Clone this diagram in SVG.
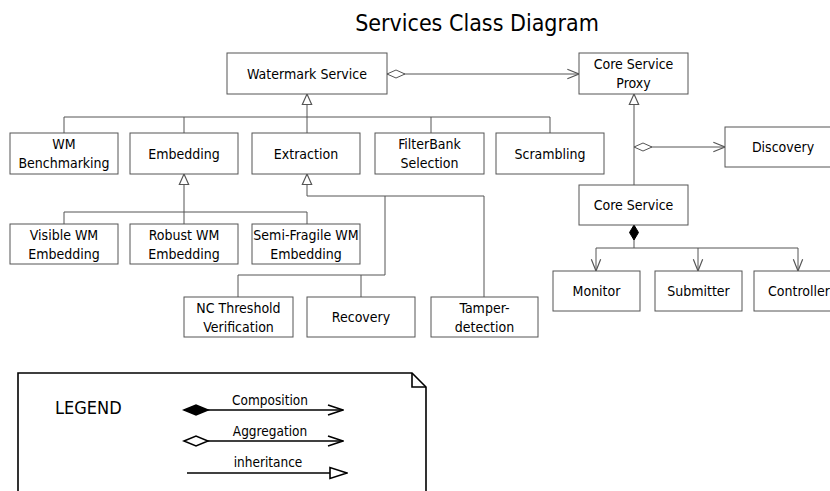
<svg xmlns="http://www.w3.org/2000/svg" width="830" height="491" viewBox="0 0 830 491">
<style>
text{font-family:"DejaVu Sans Condensed","DejaVu Sans",sans-serif;fill:#000}
.n{font-size:14px;text-anchor:middle}
.box{fill:#fff;stroke:#555;stroke-width:1}
.c{fill:none;stroke:#555;stroke-width:1}
.lg{fill:none;stroke:#000;stroke-width:1.6}
</style>
<defs>
<marker id="tri" markerUnits="userSpaceOnUse" markerWidth="14" markerHeight="14" viewBox="-11 -6 12 12" refX="0" refY="0" orient="auto"><path d="M0,0 L-9,-4 L-9,4 Z" fill="#fff" stroke="#555" stroke-width="1"/></marker>
<marker id="arr" markerUnits="userSpaceOnUse" markerWidth="14" markerHeight="14" viewBox="-11 -6 12 12" refX="0" refY="0" orient="auto"><path d="M-10,-4 L0,0 L-10,4" fill="none" stroke="#555" stroke-width="1"/></marker>
<marker id="odia" markerUnits="userSpaceOnUse" markerWidth="20" markerHeight="12" viewBox="-1 -6 20 12" refX="0" refY="0" orient="auto"><path d="M0,0 L9,-4 L18,0 L9,4 Z" fill="#fff" stroke="#555" stroke-width="1"/></marker>
<marker id="fdia" markerUnits="userSpaceOnUse" markerWidth="20" markerHeight="12" viewBox="-1 -6 20 12" refX="0" refY="0" orient="auto"><path d="M0,0 L7.5,-4.5 L15,0 L7.5,4.5 Z" fill="#000" stroke="#000" stroke-width="1"/></marker>
<marker id="larr" markerUnits="userSpaceOnUse" markerWidth="18" markerHeight="14" viewBox="-17 -7 18 14" refX="0" refY="0" orient="auto"><path d="M-15,-5 L0,0 L-15,5" fill="none" stroke="#000" stroke-width="1.6"/></marker>
<marker id="ltri" markerUnits="userSpaceOnUse" markerWidth="20" markerHeight="14" viewBox="-19 -7 20 14" refX="0" refY="0" orient="auto"><path d="M0,0 L-17,-5.5 L-17,5.5 Z" fill="#fff" stroke="#000" stroke-width="1.6"/></marker>
<marker id="lodia" markerUnits="userSpaceOnUse" markerWidth="28" markerHeight="14" viewBox="-2 -7 28 14" refX="0" refY="0" orient="auto"><path d="M0,0 L12,-5 L24,0 L12,5 Z" fill="#fff" stroke="#000" stroke-width="1.6"/></marker>
<marker id="lfdia" markerUnits="userSpaceOnUse" markerWidth="28" markerHeight="14" viewBox="-2 -7 28 14" refX="0" refY="0" orient="auto"><path d="M0,0 L12,-5 L24,0 L12,5 Z" fill="#000" stroke="#000" stroke-width="1.6"/></marker>
</defs>

<text x="477" y="31" font-size="23" text-anchor="middle">Services Class Diagram</text>

<g id="connectors">
<path class="c" d="M387,74 H579" marker-start="url(#odia)" marker-end="url(#arr)"/>
<path class="c" d="M307,117 V94" marker-end="url(#tri)"/>
<path class="c" d="M64,117 H550 M64,117 V133 M184,117 V133 M307,117 V133 M431,117 V133 M550,117 V133"/>
<path class="c" d="M184,212 V174" marker-end="url(#tri)"/>
<path class="c" d="M64,212 H307 M64,212 V224 M307,212 V224 M184,212 V224"/>
<path class="c" d="M484,196 H307 V174" marker-end="url(#tri)"/>
<path class="c" d="M484,196 V297 M385,196 V275 H238 V297 M361,275 V297"/>
<path class="c" d="M634,185 V94" marker-end="url(#tri)"/>
<path class="c" d="M634,147 H725" marker-start="url(#odia)" marker-end="url(#arr)"/>
<path class="c" d="M634,225 V248" marker-start="url(#fdia)"/>
<path class="c" d="M596,248 H798"/>
<path class="c" d="M596,248 V271" marker-end="url(#arr)"/>
<path class="c" d="M698,248 V271" marker-end="url(#arr)"/>
<path class="c" d="M798,248 V271" marker-end="url(#arr)"/>
</g>

<g id="watermark-service"><rect class="box" x="227" y="53" width="160" height="41"/><text class="n" x="307" y="79">Watermark Service</text></g>
<g id="core-service-proxy"><rect class="box" x="579" y="53" width="109" height="41"/><text class="n" x="633.5" y="69">Core Service</text><text class="n" x="633.5" y="88">Proxy</text></g>
<g id="wm-benchmarking"><rect class="box" x="10" y="133" width="108" height="41"/><text class="n" x="64" y="149">WM</text><text class="n" x="64" y="168">Benchmarking</text></g>
<g id="embedding"><rect class="box" x="130" y="133" width="108" height="41"/><text class="n" x="184" y="159">Embedding</text></g>
<g id="extraction"><rect class="box" x="252" y="133" width="108" height="41"/><text class="n" x="306" y="159">Extraction</text></g>
<g id="filterbank-selection"><rect class="box" x="375" y="133" width="109" height="41"/><text class="n" x="429.5" y="149">FilterBank</text><text class="n" x="429.5" y="168">Selection</text></g>
<g id="scrambling"><rect class="box" x="496" y="133" width="108" height="41"/><text class="n" x="550" y="159">Scrambling</text></g>
<g id="discovery"><rect class="box" x="725" y="127" width="110" height="40"/><text class="n" x="783" y="152">Discovery</text></g>
<g id="visible-wm"><rect class="box" x="10" y="224" width="108" height="40"/><text class="n" x="64" y="240">Visible WM</text><text class="n" x="64" y="259">Embedding</text></g>
<g id="robust-wm"><rect class="box" x="130" y="224" width="108" height="40"/><text class="n" x="184" y="240">Robust WM</text><text class="n" x="184" y="259">Embedding</text></g>
<g id="semi-fragile-wm"><rect class="box" x="252" y="224" width="108" height="40"/><text class="n" x="306" y="240">Semi-Fragile WM</text><text class="n" x="306" y="259">Embedding</text></g>
<g id="core-service"><rect class="box" x="579" y="185" width="109" height="40"/><text class="n" x="633.5" y="210">Core Service</text></g>
<g id="nc-threshold"><rect class="box" x="184" y="297" width="109" height="40"/><text class="n" x="238.5" y="313">NC Threshold</text><text class="n" x="238.5" y="332">Verification</text></g>
<g id="recovery"><rect class="box" x="307" y="297" width="108" height="40"/><text class="n" x="361" y="322">Recovery</text></g>
<g id="tamper-detection"><rect class="box" x="431" y="297" width="107" height="40"/><text class="n" x="484.5" y="313">Tamper-</text><text class="n" x="484.5" y="332">detection</text></g>
<g id="monitor"><rect class="box" x="553" y="271" width="87" height="40"/><text class="n" x="596.5" y="296">Monitor</text></g>
<g id="submitter"><rect class="box" x="655" y="271" width="87" height="40"/><text class="n" x="698.5" y="296">Submitter</text></g>
<g id="controller"><rect class="box" x="754" y="271" width="90" height="40"/><text class="n" x="799" y="296">Controller</text></g>

<g id="legend">
<path class="lg" d="M18,495 V373 H412 L426,387 V495" fill="#fff"/>
<path class="lg" d="M412,373 V387 H426"/>
<text x="55" y="414" font-size="18">LEGEND</text>
<path class="lg" d="M184,410 H343" marker-start="url(#lfdia)" marker-end="url(#larr)"/>
<text x="270" y="405" font-size="13.5" text-anchor="middle">Composition</text>
<path class="lg" d="M184,441 H343" marker-start="url(#lodia)" marker-end="url(#larr)"/>
<text x="270" y="436" font-size="13.5" text-anchor="middle">Aggregation</text>
<path class="lg" d="M187,473 H347" marker-end="url(#ltri)"/>
<text x="268" y="467" font-size="13.5" text-anchor="middle">inheritance</text>
</g>
</svg>
